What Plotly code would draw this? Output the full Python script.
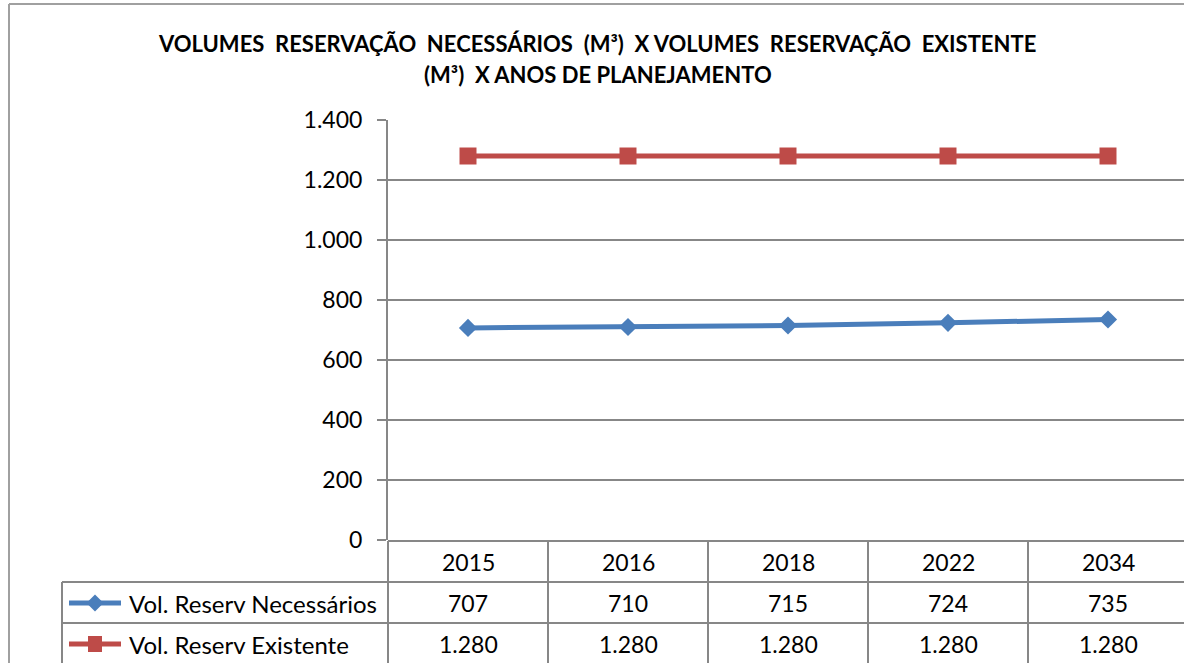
import plotly.graph_objects as go

# ---- data ----
anos = ["2015", "2016", "2018", "2022", "2034"]
vol_necessarios = [707, 710, 715, 724, 735]
vol_existente = [1280, 1280, 1280, 1280, 1280]
serie_nomes = ["Vol. Reserv Necessários", "Vol. Reserv Existente"]
titulo_l1 = "VOLUMES  RESERVAÇÃO  NECESSÁRIOS  (M³)  X VOLUMES  RESERVAÇÃO  EXISTENTE"
titulo_l2 = "(M³)  X ANOS DE PLANEJAMENTO"

W, H = 1184, 663
BLUE = "#4A7EBB"
RED = "#BE4B48"
GRID = "#878787"
BORDER = "#A0A0A0"
FONT = "Lato"

def px(x):
    return x / W

def py(y):
    return 1 - y / H

x_idx = list(range(len(anos)))
left_px = 388
cat_w = 160
x_range = [-0.5, -0.5 + (W - left_px) / cat_w]

fig = go.Figure()
fig.add_trace(go.Scatter(
    x=x_idx, y=vol_necessarios, mode="lines+markers", name=serie_nomes[0],
    line=dict(color=BLUE, width=5),
    marker=dict(symbol="diamond", size=14, color=BLUE),
))
fig.add_trace(go.Scatter(
    x=x_idx, y=vol_existente, mode="lines+markers", name=serie_nomes[1],
    line=dict(color=RED, width=5),
    marker=dict(symbol="square", size=17, color=RED),
))

shapes = []
annotations = []

# chart border (left + top)
shapes.append(dict(type="line", xref="paper", yref="paper", x0=px(9), x1=px(9), y0=py(4), y1=0,
                   line=dict(color=BORDER, width=2)))
shapes.append(dict(type="line", xref="paper", yref="paper", x0=px(9), x1=1, y0=py(4), y1=py(4),
                   line=dict(color=BORDER, width=2)))

# data table grid
shapes.append(dict(type="line", xref="paper", yref="paper", x0=px(left_px), x1=1, y0=py(541), y1=py(541),
                   line=dict(color=GRID, width=2)))
for yy in (582, 623):
    shapes.append(dict(type="line", xref="paper", yref="paper", x0=px(62), x1=1, y0=py(yy), y1=py(yy),
                       line=dict(color=GRID, width=2)))
shapes.append(dict(type="line", xref="paper", yref="paper", x0=px(62), x1=px(62), y0=py(582), y1=0,
                   line=dict(color=GRID, width=2)))
shapes.append(dict(type="line", xref="paper", yref="paper", x0=px(left_px), x1=px(left_px), y0=py(541), y1=0,
                   line=dict(color=GRID, width=2)))
for i in range(len(anos) - 1):
    shapes.append(dict(type="line", xref="x", yref="paper", x0=i + 0.5, x1=i + 0.5, y0=py(541), y1=0,
                       line=dict(color=GRID, width=2)))

# table text
tfont = dict(family=FONT, size=23, color="black")
for i, a in enumerate(anos):
    annotations.append(dict(x=i, y=py(562), xref="x", yref="paper", text=a, showarrow=False, font=tfont,
                            xanchor="center", yanchor="middle"))

def fmt(v):
    return f"{v:,}".replace(",", ".")

for i, v in enumerate(vol_necessarios):
    annotations.append(dict(x=i, y=py(603), xref="x", yref="paper", text=fmt(v), showarrow=False, font=tfont,
                            xanchor="center", yanchor="middle"))
for i, v in enumerate(vol_existente):
    annotations.append(dict(x=i, y=py(644), xref="x", yref="paper", text=fmt(v), showarrow=False, font=tfont,
                            xanchor="center", yanchor="middle"))

# legend keys within the table
for name, color, yy, sym in [(serie_nomes[0], BLUE, 603, "diamond"), (serie_nomes[1], RED, 644, "square")]:
    shapes.append(dict(type="line", xref="paper", yref="paper", x0=px(69), x1=px(121), y0=py(yy), y1=py(yy),
                       line=dict(color=color, width=5)))
    if sym == "diamond":
        cx, cy, r = 95, yy, 8.5
        path = f"M {px(cx-r)} {py(cy)} L {px(cx)} {py(cy-r)} L {px(cx+r)} {py(cy)} L {px(cx)} {py(cy+r)} Z"
        shapes.append(dict(type="path", xref="paper", yref="paper", path=path,
                           fillcolor=color, line=dict(color=color, width=0)))
    else:
        shapes.append(dict(type="rect", xref="paper", yref="paper", x0=px(88), x1=px(102), y0=py(yy - 8), y1=py(yy + 8),
                           fillcolor=color, line=dict(color=color, width=0)))
    annotations.append(dict(x=px(127), y=py(yy), xref="paper", yref="paper", text=name, showarrow=False,
                            font=dict(family=FONT, size=24, color="black"), xanchor="left", yanchor="middle"))

# title
title_font = dict(family=FONT, size=22, color="black")
annotations.append(dict(x=px(597), y=py(44), xref="paper", yref="paper", text=f"<b>{titulo_l1}</b>",
                        showarrow=False, font=title_font, xanchor="center", yanchor="middle"))
annotations.append(dict(x=px(598), y=py(74), xref="paper", yref="paper", text=f"<b>{titulo_l2}</b>",
                        showarrow=False, font=title_font, xanchor="center", yanchor="middle"))

fig.update_layout(
    width=W, height=H,
    margin=dict(l=0, r=0, t=0, b=0, pad=0, autoexpand=False),
    paper_bgcolor="white", plot_bgcolor="white",
    showlegend=False,
    separators=",.",
    font=dict(family=FONT, size=23, color="black"),
    shapes=shapes, annotations=annotations,
    xaxis=dict(domain=[px(left_px), 1], range=x_range, showgrid=False, zeroline=False, automargin=False,
               showticklabels=False, ticks="", showline=False, fixedrange=True),
    yaxis=dict(domain=[py(540), py(120)], range=[0, 1400], dtick=200, tickformat=",d", automargin=False,
               showgrid=True, gridcolor=GRID, gridwidth=2, zeroline=False,
               showline=True, linecolor=GRID, linewidth=2,
               ticks="outside", ticklen=9, tickcolor=GRID, tickwidth=2,
               ticklabelstandoff=10,
               tickfont=dict(family=FONT, size=23, color="black")),
)

fig.write_html("out.html", config={"displayModeBar": False},
               post_script="document.body.style.margin='0';document.body.style.overflow='hidden';")
